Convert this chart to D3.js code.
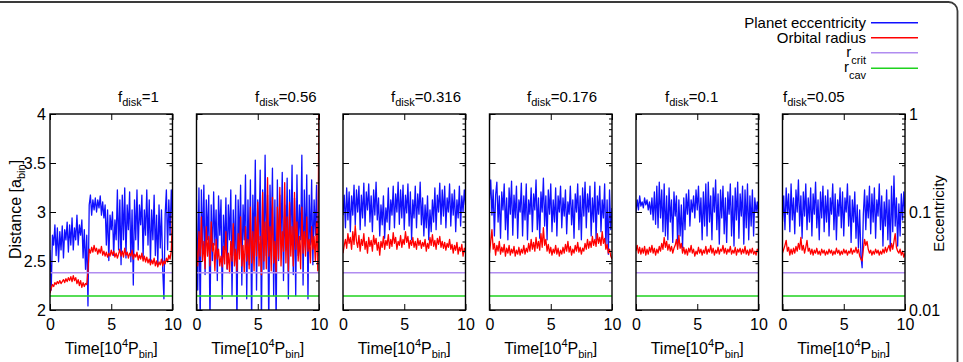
<!DOCTYPE html>
<html>
<head>
<meta charset="utf-8">
<script src="https://cdn.jsdelivr.net/npm/d3@7"></script>
<style>
body { margin: 0; background: #fff; }
text { font-family: "Liberation Sans", Arial, sans-serif; }
</style>
</head>
<body>
<svg></svg>
<script>
const width = 963;
const height = 362;

// panel titles (f_disk values)
const fDisk = ["1", "0.56", "0.316", "0.176", "0.1", "0.05"];

// planet eccentricity, sampled every 0.1 x 10^4 P_bin from 0 to 10
const eccF1 = [
	0.041,0.016,0.058,0.046,0.074,0.036,0.069,0.031,0.063,0.041,
	0.072,0.034,0.066,0.052,0.079,0.039,0.074,0.046,0.087,0.041,
	0.069,0.052,0.093,0.046,0.074,0.058,0.083,0.034,0.066,0.026,
	0.058,0.011,0.118,0.149,0.093,0.133,0.105,0.139,0.100,0.133,
	0.110,0.146,0.093,0.127,0.087,0.118,0.046,0.105,0.032,0.093,
	0.066,0.100,0.036,0.083,0.052,0.168,0.041,0.133,0.029,0.149,
	0.052,0.176,0.034,0.118,0.066,0.160,0.031,0.105,0.018,0.133,
	0.052,0.168,0.041,0.118,0.074,0.149,0.034,0.105,0.058,0.168,
	0.046,0.133,0.031,0.105,0.052,0.149,0.036,0.093,0.029,0.118,
	0.043,0.105,0.026,0.013,0.093,0.168,0.041,0.133,0.058,0.168,
	0.083];
const eccF056 = [
	0.133,0.016,0.176,0.007,0.168,0.041,0.188,0.023,0.133,0.052,
	0.149,0.007,0.118,0.032,0.160,0.046,0.105,0.020,0.146,0.058,
	0.133,0.013,0.093,0.041,0.139,0.026,0.118,0.052,0.168,0.014,
	0.105,0.036,0.149,0.007,0.133,0.046,0.188,0.018,0.118,0.052,
	0.239,0.013,0.133,0.029,0.212,0.007,0.149,0.041,0.339,0.016,
	0.133,0.052,0.268,0.007,0.168,0.026,0.380,0.036,0.149,0.007,
	0.188,0.046,0.280,0.014,0.133,0.007,0.212,0.032,0.149,0.052,
	0.254,0.020,0.118,0.041,0.222,0.013,0.168,0.046,0.300,0.023,
	0.139,0.014,0.239,0.036,0.118,0.052,0.380,0.018,0.168,0.041,
	0.239,0.013,0.149,0.046,0.212,0.029,0.133,0.058,0.188,0.036,
	0.093];
const eccF0316 = [
	0.093,0.149,0.069,0.176,0.083,0.160,0.063,0.146,0.093,0.188,
	0.074,0.168,0.100,0.184,0.066,0.149,0.087,0.197,0.072,0.160,
	0.105,0.193,0.079,0.146,0.063,0.168,0.093,0.202,0.083,0.139,
	0.057,0.118,0.074,0.146,0.054,0.110,0.079,0.176,0.066,0.133,
	0.093,0.184,0.069,0.153,0.100,0.202,0.075,0.168,0.087,0.188,
	0.066,0.149,0.098,0.193,0.072,0.160,0.052,0.133,0.087,0.184,
	0.069,0.153,0.095,0.202,0.074,0.139,0.057,0.118,0.069,0.146,
	0.052,0.105,0.063,0.133,0.079,0.176,0.066,0.149,0.100,0.197,
	0.075,0.168,0.091,0.184,0.069,0.139,0.100,0.193,0.072,0.153,
	0.093,0.168,0.063,0.133,0.087,0.184,0.072,0.146,0.100,0.168,
	0.118];
const eccF0176 = [
	0.133,0.212,0.093,0.168,0.057,0.149,0.202,0.079,0.146,0.054,
	0.160,0.105,0.193,0.066,0.139,0.052,0.176,0.095,0.207,0.058,
	0.149,0.087,0.184,0.054,0.133,0.100,0.197,0.057,0.146,0.083,
	0.193,0.052,0.133,0.095,0.176,0.063,0.153,0.105,0.212,0.066,
	0.139,0.054,0.160,0.100,0.222,0.072,0.146,0.052,0.168,0.095,
	0.193,0.063,0.133,0.079,0.176,0.057,0.146,0.100,0.184,0.069,
	0.139,0.091,0.168,0.060,0.127,0.095,0.184,0.074,0.133,0.054,
	0.153,0.100,0.193,0.066,0.146,0.052,0.176,0.091,0.202,0.069,
	0.153,0.100,0.184,0.057,0.139,0.079,0.202,0.052,0.146,0.095,
	0.184,0.063,0.133,0.087,0.193,0.043,0.133,0.037,0.168,0.066,
	0.110];
const eccF01 = [
	0.100,0.133,0.105,0.146,0.115,0.127,0.110,0.139,0.118,0.133,
	0.105,0.127,0.095,0.139,0.083,0.160,0.075,0.184,0.069,0.202,
	0.087,0.168,0.063,0.193,0.057,0.146,0.052,0.176,0.079,0.133,
	0.049,0.160,0.091,0.146,0.045,0.133,0.057,0.118,0.043,0.139,
	0.066,0.153,0.095,0.168,0.072,0.133,0.100,0.146,0.087,0.168,
	0.105,0.184,0.079,0.139,0.052,0.160,0.072,0.193,0.057,0.202,
	0.079,0.146,0.052,0.176,0.100,0.212,0.066,0.153,0.047,0.168,
	0.087,0.184,0.060,0.139,0.049,0.160,0.095,0.193,0.057,0.146,
	0.045,0.176,0.083,0.202,0.054,0.153,0.091,0.184,0.047,0.168,
	0.069,0.193,0.052,0.146,0.072,0.168,0.057,0.139,0.100,0.127,
	0.087];
const eccF005 = [
	0.079,0.146,0.066,0.176,0.095,0.153,0.063,0.193,0.083,0.139,
	0.060,0.168,0.100,0.212,0.072,0.146,0.054,0.160,0.091,0.193,
	0.066,0.139,0.079,0.176,0.057,0.153,0.095,0.202,0.069,0.133,
	0.052,0.160,0.087,0.184,0.063,0.146,0.079,0.168,0.057,0.139,
	0.095,0.193,0.066,0.153,0.052,0.133,0.091,0.176,0.069,0.160,
	0.057,0.139,0.100,0.193,0.072,0.146,0.049,0.133,0.079,0.160,
	0.054,0.118,0.043,0.105,0.036,0.027,0.095,0.168,0.066,0.146,
	0.087,0.184,0.060,0.153,0.079,0.176,0.054,0.133,0.091,0.193,
	0.066,0.146,0.045,0.127,0.072,0.168,0.052,0.133,0.041,0.184,
	0.063,0.233,0.072,0.139,0.045,0.121,0.057,0.153,0.083,0.160,
	0.095];

// orbital radius [a_bin], same sampling
const radF1 = [
	2.17,2.22,2.26,2.24,2.28,2.26,2.29,2.27,2.30,2.27,
	2.29,2.31,2.28,2.32,2.29,2.33,2.30,2.34,2.29,2.35,
	2.30,2.33,2.27,2.31,2.25,2.30,2.23,2.28,2.24,2.27,
	2.26,2.40,2.62,2.58,2.64,2.59,2.66,2.60,2.63,2.57,
	2.62,2.58,2.65,2.56,2.60,2.55,2.59,2.54,2.58,2.55,
	2.61,2.56,2.60,2.54,2.58,2.53,2.57,2.62,2.55,2.60,
	2.54,2.63,2.56,2.59,2.53,2.58,2.55,2.61,2.52,2.57,
	2.54,2.59,2.51,2.56,2.52,2.58,2.50,2.55,2.49,2.54,
	2.48,2.52,2.46,2.51,2.47,2.53,2.45,2.50,2.44,2.49,
	2.46,2.52,2.45,2.50,2.47,2.53,2.49,2.56,2.52,2.60,
	2.98];
const radF056 = [
	2.62,2.45,2.80,2.55,2.95,2.50,2.70,2.42,2.85,2.55,
	2.75,2.45,2.90,2.60,2.68,2.40,2.72,2.52,2.62,2.45,
	2.55,2.44,2.65,2.47,2.80,2.42,2.58,2.38,2.70,2.50,
	2.88,2.45,2.62,2.40,2.78,2.52,2.95,2.45,2.66,2.38,
	2.85,2.50,2.72,2.42,3.05,2.48,2.80,2.40,2.95,2.55,
	3.10,2.45,2.75,2.36,3.20,2.50,2.90,2.42,3.35,2.55,
	2.85,2.40,3.15,2.48,2.70,2.38,3.05,2.52,3.25,2.45,
	2.80,2.60,3.30,2.48,2.95,2.40,3.10,2.55,2.85,2.45,
	3.20,2.62,2.90,2.50,2.75,2.42,3.05,2.58,2.80,2.55,
	2.95,2.60,2.72,2.48,2.85,2.62,2.75,2.50,2.90,2.40,
	4.20];
const radF0316 = [
	2.58,2.66,2.72,2.63,2.78,2.68,2.74,2.62,2.80,2.67,
	2.86,2.70,2.64,2.76,2.60,2.72,2.66,2.78,2.62,2.70,
	2.58,2.74,2.65,2.71,2.60,2.76,2.67,2.73,2.61,2.69,
	2.56,2.70,2.64,2.75,2.62,2.71,2.66,2.77,2.63,2.72,
	2.65,2.79,2.68,2.74,2.62,2.70,2.66,2.76,2.64,2.72,
	2.67,2.80,2.69,2.75,2.63,2.71,2.66,2.74,2.64,2.70,
	2.62,2.73,2.66,2.71,2.63,2.69,2.65,2.72,2.60,2.68,
	2.63,2.74,2.66,2.77,2.65,2.71,2.62,2.73,2.67,2.75,
	2.64,2.70,2.63,2.69,2.61,2.68,2.64,2.72,2.62,2.67,
	2.58,2.66,2.61,2.69,2.57,2.64,2.60,2.67,2.55,2.63,
	2.58];
const radF0176 = [
	2.58,2.70,2.82,2.62,2.68,2.56,2.66,2.60,2.70,2.57,
	2.64,2.59,2.67,2.55,2.63,2.58,2.66,2.56,2.62,2.58,
	2.65,2.55,2.61,2.57,2.64,2.56,2.62,2.58,2.66,2.57,
	2.63,2.59,2.68,2.60,2.72,2.62,2.69,2.60,2.74,2.63,
	2.70,2.61,2.78,2.64,2.84,2.66,2.72,2.60,2.67,2.58,
	2.64,2.56,2.62,2.58,2.66,2.57,2.63,2.55,2.61,2.57,
	2.64,2.58,2.67,2.60,2.70,2.59,2.65,2.56,2.62,2.58,
	2.66,2.60,2.69,2.59,2.64,2.57,2.63,2.60,2.68,2.62,
	2.72,2.63,2.70,2.64,2.75,2.66,2.72,2.65,2.78,2.68,
	2.74,2.66,2.80,2.68,2.73,2.62,2.67,2.58,2.62,2.55,
	2.52];
const radF01 = [
	2.60,2.66,2.58,2.64,2.57,2.63,2.58,2.65,2.56,2.62,
	2.57,2.64,2.59,2.66,2.58,2.63,2.56,2.62,2.58,2.65,
	2.60,2.68,2.62,2.74,2.64,2.70,2.61,2.67,2.60,2.65,
	2.58,2.63,2.66,2.72,2.62,2.76,2.63,2.68,2.58,2.64,
	2.57,2.62,2.56,2.63,2.59,2.66,2.58,2.62,2.55,2.60,
	2.57,2.64,2.58,2.62,2.56,2.61,2.58,2.65,2.57,2.62,
	2.59,2.66,2.58,2.63,2.56,2.61,2.58,2.64,2.57,2.62,
	2.60,2.66,2.58,2.63,2.57,2.62,2.59,2.65,2.57,2.61,
	2.58,2.64,2.56,2.62,2.59,2.63,2.57,2.62,2.58,2.65,
	2.57,2.61,2.56,2.62,2.58,2.63,2.57,2.60,2.56,2.62,
	2.59];
const radF005 = [
	2.58,2.62,2.66,2.71,2.60,2.64,2.56,2.62,2.57,2.63,
	2.58,2.65,2.60,2.68,2.62,2.74,2.61,2.66,2.58,2.64,
	2.71,2.60,2.63,2.57,2.62,2.56,2.61,2.58,2.63,2.57,
	2.60,2.56,2.62,2.58,2.61,2.56,2.60,2.57,2.62,2.58,
	2.61,2.56,2.60,2.57,2.63,2.58,2.61,2.56,2.60,2.57,
	2.62,2.58,2.61,2.56,2.60,2.58,2.63,2.57,2.61,2.59,
	2.64,2.58,2.62,2.55,2.52,2.50,2.62,2.72,2.66,2.70,
	2.62,2.58,2.61,2.56,2.60,2.57,2.62,2.58,2.61,2.56,
	2.60,2.57,2.62,2.58,2.64,2.59,2.63,2.66,2.60,2.68,
	2.62,2.70,2.78,2.64,2.60,2.58,2.62,2.56,2.60,2.54,
	2.58];

const rCrit = 2.38;
const rCav = 2.143;

const timeEnd = 10;
const timeTicks = [0, 5, 10];
const distTicks = [2, 2.5, 3, 3.5, 4];
const eccMajor = [0.01, 0.1, 1];
const eccMinor = [0.02, 0.03, 0.04, 0.05, 0.06, 0.07, 0.08, 0.09, 0.2, 0.3, 0.4, 0.5, 0.6, 0.7, 0.8, 0.9];

const eccSeries = [eccF1, eccF056, eccF0316, eccF0176, eccF01, eccF005];
const radSeries = [radF1, radF056, radF0316, radF0176, radF01, radF005];

const colEcc = "#1010ff";
const colRad = "#ff0000";
const colCrit = "#b08cf0";
const colCav = "#1ed21e";

const svg = d3.select("svg").attr("width", width).attr("height", height);

// outer frame of the figure
svg.append("rect")
	.attr("x", -20).attr("y", 2)
	.attr("width", 977.5).attr("height", 400)
	.attr("rx", 9)
	.attr("fill", "none")
	.attr("stroke", "#3a3a3a")
	.attr("stroke-width", 1.8);

const panelLeft = 50, panelStep = 146.5, panelW = 122.5;
const plotTop = 114, plotBottom = 310;
const titleX = [118, 255, 391, 527, 665, 783];

const x = d3.scaleLinear().domain([0, timeEnd]).range([0, panelW]);
const yDist = d3.scaleLinear().domain([2, 4]).range([plotBottom, plotTop]);
const yEcc = d3.scaleLog().domain([0.01, 1]).range([plotBottom, plotTop]);

const tOf = (i, n) => i * timeEnd / (n - 1);
const eccLine = d3.line().x((d, i, a) => x(tOf(i, a.length))).y(d => yEcc(d));
const radLine = d3.line().x((d, i, a) => x(tOf(i, a.length))).y(d => yDist(d));

function styleAxis(a) {
	a.select(".domain").remove();
	a.attr("font-size", 16).attr("font-family", "Liberation Sans, Arial, sans-serif");
	a.selectAll(".tick line").attr("stroke", "#000");
	a.selectAll(".tick text").attr("fill", "#000");
}

fDisk.forEach((f, i) => {
	const g = svg.append("g").attr("transform", `translate(${panelLeft + i * panelStep},0)`);

	g.append("clipPath").attr("id", "clip" + i)
		.append("rect").attr("x", 0).attr("y", plotTop).attr("width", panelW).attr("height", plotBottom - plotTop);

	const plot = g.append("g").attr("clip-path", `url(#clip${i})`);
	plot.append("path").datum(eccSeries[i])
		.attr("d", eccLine)
		.attr("fill", "none").attr("stroke", colEcc).attr("stroke-width", 1.3)
		.attr("stroke-linejoin", "round");
	plot.append("path").datum(radSeries[i])
		.attr("d", radLine)
		.attr("fill", "none").attr("stroke", colRad).attr("stroke-width", 1.3)
		.attr("stroke-linejoin", "round");
	[[rCrit, colCrit], [rCav, colCav]].forEach(([r, c]) => {
		plot.append("line")
			.attr("x1", 0).attr("x2", panelW)
			.attr("y1", yDist(r)).attr("y2", yDist(r))
			.attr("stroke", c).attr("stroke-width", 1.6);
	});

	// axes, all ticks pointing inwards
	g.append("g").attr("transform", `translate(0,${plotBottom})`)
		.call(d3.axisBottom(x).tickValues(timeTicks).tickSize(-6).tickPadding(9).tickFormat(d3.format("d")))
		.call(styleAxis);
	g.append("g").attr("transform", `translate(0,${plotTop})`)
		.call(d3.axisTop(x).tickValues(timeTicks).tickSize(-6).tickFormat(""))
		.call(styleAxis);
	g.append("g")
		.call(d3.axisLeft(yDist).tickValues(distTicks).tickSize(-6).tickPadding(4)
			.tickFormat(i === 0 ? d => d : ""))
		.call(styleAxis);
	g.append("g").attr("transform", `translate(${panelW},0)`)
		.call(d3.axisRight(yDist).tickValues(distTicks).tickSize(-6).tickFormat(""))
		.call(styleAxis);
	g.append("g").attr("transform", `translate(${panelW},0)`)
		.call(d3.axisRight(yEcc).tickValues(eccMinor).tickSize(-3).tickFormat(""))
		.call(styleAxis);
	g.append("g").attr("transform", `translate(${panelW},0)`)
		.call(d3.axisRight(yEcc).tickValues(eccMajor).tickSize(-6).tickPadding(4)
			.tickFormat(i === fDisk.length - 1 ? d => String(d) : ""))
		.call(styleAxis);

	g.append("rect")
		.attr("x", 0).attr("y", plotTop)
		.attr("width", panelW).attr("height", plotBottom - plotTop)
		.attr("fill", "none").attr("stroke", "#000").attr("stroke-width", 1.4);

	// panel title
	const t = svg.append("text")
		.attr("x", titleX[i]).attr("y", 102)
		.attr("font-size", 15).attr("fill", "#000");
	t.append("tspan").text("f");
	t.append("tspan").attr("font-size", 11).attr("dy", 4).text("disk");
	t.append("tspan").attr("dy", -4).text("=" + f);

	// x axis label
	const xl = g.append("text")
		.attr("x", panelW / 2).attr("y", 354)
		.attr("text-anchor", "middle")
		.attr("font-size", 16).attr("fill", "#000");
	xl.append("tspan").text("Time[10");
	xl.append("tspan").attr("font-size", 11).attr("dy", -7).text("4");
	xl.append("tspan").attr("dy", 7).text("P");
	xl.append("tspan").attr("font-size", 11).attr("dy", 4).text("bin");
	xl.append("tspan").attr("dy", -4).text("]");
});

// y axis labels
const yl = svg.append("text")
	.attr("transform", "translate(21,209.5) rotate(-90)")
	.attr("text-anchor", "middle")
	.attr("font-size", 16).attr("fill", "#000");
yl.append("tspan").text("Distance [a");
yl.append("tspan").attr("font-size", 11).attr("dy", 4).text("bin");
yl.append("tspan").attr("dy", -4).text("]");

svg.append("text")
	.attr("transform", "translate(944,213.5) rotate(-90)")
	.attr("text-anchor", "middle")
	.attr("font-size", 15).attr("fill", "#000")
	.text("Eccentricity");

// legend
const legendRows = [
	{ name: "Planet eccentricity", sub: null, color: colEcc, y: 22.7 },
	{ name: "Orbital radius", sub: null, color: colRad, y: 37.7 },
	{ name: "r", sub: "crit", color: colCrit, y: 52.7 },
	{ name: "r", sub: "cav", color: colCav, y: 68.3 }
];
const legend = svg.append("g");
legendRows.forEach(r => {
	const txt = legend.append("text")
		.attr("x", 866).attr("y", r.sub ? r.y + 4 : r.y + 5)
		.attr("text-anchor", "end")
		.attr("font-size", 15).attr("fill", "#000");
	txt.append("tspan").text(r.name);
	if (r.sub) txt.append("tspan").attr("font-size", 11).attr("dy", 7).text(r.sub);
	legend.append("line")
		.attr("x1", 871).attr("x2", 918)
		.attr("y1", r.y).attr("y2", r.y)
		.attr("stroke", r.color).attr("stroke-width", 1.5);
});
</script>
</body>
</html>
